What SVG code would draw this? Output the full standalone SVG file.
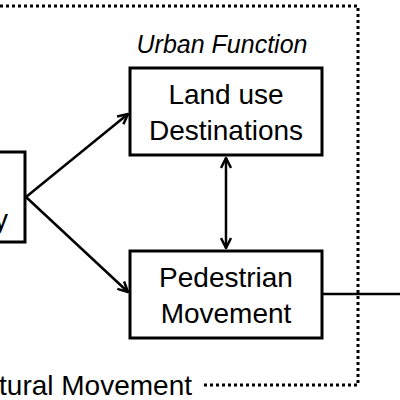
<svg xmlns="http://www.w3.org/2000/svg" width="400" height="400" viewBox="0 0 400 400">
<style>
.box{fill:#fff;stroke:#000;stroke-width:3}
.lbl{font-family:"Liberation Sans",Arial,sans-serif;font-size:28px;fill:#000;text-anchor:middle}
.conn{stroke:#000;stroke-width:2.5;fill:none}
.dot{stroke:#000;stroke-width:3;fill:none;stroke-dasharray:3 3}
</style>
<defs>
<marker id="ah" viewBox="0 0 12 12" refX="11" refY="6" markerWidth="12" markerHeight="12" markerUnits="userSpaceOnUse" orient="auto-start-reverse">
<path d="M1,1 L11,6 L1,11" fill="none" stroke="#000" stroke-width="2.5"/>
</marker>
</defs>
<rect width="400" height="400" fill="#fff"/>
<g id="boundary">
<polyline class="dot" points="0,6 358,6 358,385 203,385"/>
<text class="lbl" x="192" y="395" style="text-anchor:end">tural Movement</text>
</g>
<g id="connectors">
<line class="conn" x1="26" y1="197" x2="128" y2="114" marker-end="url(#ah)"/>
<line class="conn" x1="26" y1="197" x2="128" y2="292" marker-end="url(#ah)"/>
<line class="conn" x1="226" y1="158" x2="226" y2="248" marker-start="url(#ah)" marker-end="url(#ah)"/>
<line class="conn" x1="322" y1="294" x2="400" y2="294"/>
</g>
<g id="node-left">
<rect class="box" x="-10" y="152" width="35" height="90"/>
<text class="lbl" x="8" y="229" style="text-anchor:end">y</text>
</g>
<g id="node-urban-function">
<text class="lbl" x="222" y="53" style="font-size:25px;font-style:italic">Urban Function</text>
</g>
<g id="node-landuse">
<rect class="box" x="130" y="68" width="192" height="87"/>
<text class="lbl" x="226" y="104">Land use</text>
<text class="lbl" x="226" y="140">Destinations</text>
</g>
<g id="node-pedestrian">
<rect class="box" x="130" y="251" width="192" height="87"/>
<text class="lbl" x="226" y="287">Pedestrian</text>
<text class="lbl" x="226" y="323">Movement</text>
</g>
</svg>
